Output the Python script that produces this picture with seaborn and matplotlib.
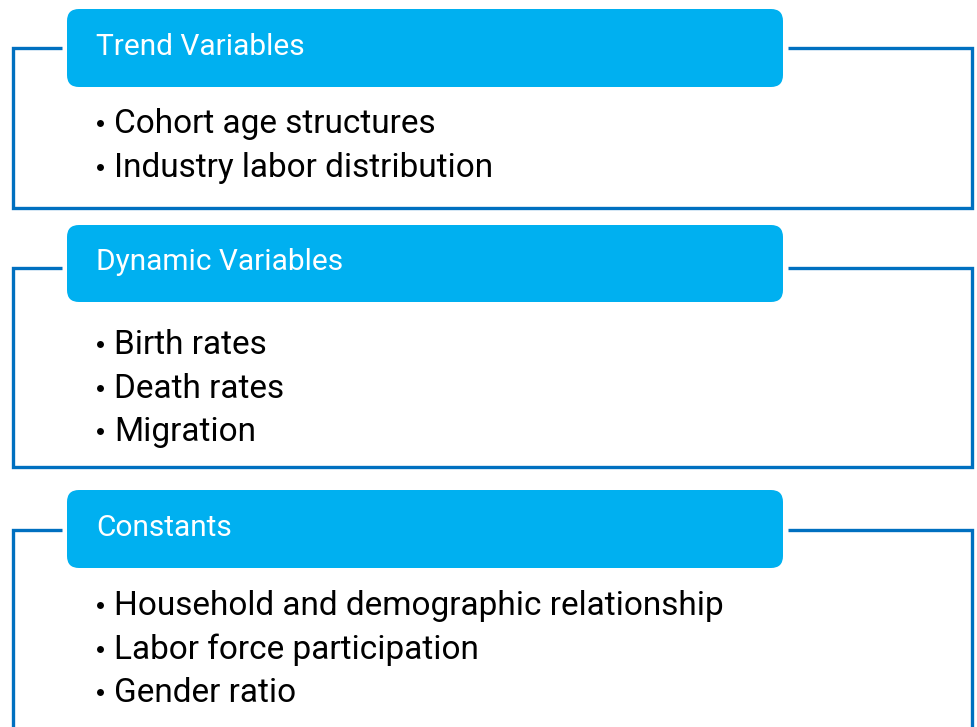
import matplotlib
matplotlib.use("Agg")
import matplotlib.pyplot as plt
from matplotlib.patches import FancyBboxPatch
import seaborn as sns

# group titles and their bullet items
titles = ['Trend Variables', 'Dynamic Variables', 'Constants']
trend_items = ['Cohort age structures', 'Industry labor distribution']
dynamic_items = ['Birth rates', 'Death rates', 'Migration']
constant_items = ['Household and demographic relationship',
                  'Labor force participation', 'Gender ratio']
items = [trend_items, dynamic_items, constant_items]

sns.set_style("white")
plt.rcParams['font.family'] = ['Roboto', 'DejaVu Sans']

header_color = '#00B0F0'
frame_color = '#0070C0'

fig = plt.figure(figsize=(9.78, 7.27), dpi=100)
ax = fig.add_axes([0, 0, 1, 1])
ax.set_xlim(0, 978)
ax.set_ylim(727, 0)
ax.axis('off')

# layout (pixels): header top/bottom, frame top, frame bottom, first bullet y
headers = [(9, 87), (225, 302), (490, 568)]
frame_tops = [48, 268, 530]
frame_bottoms = [208, 467, 740]
first_line = [124, 345, 606]
line_gap = 43.5

for i, title in enumerate(titles):
    top, bottom = headers[i]
    ft = frame_tops[i]
    fb = frame_bottoms[i]
    # frame outline
    ax.plot([62, 13, 13, 972, 972, 788], [ft, ft, fb, fb, ft, ft],
            color=frame_color, lw=2.4, solid_joinstyle='miter',
            solid_capstyle='butt', clip_on=False)
    # header box
    box = FancyBboxPatch((67, top), 716, bottom - top,
                         boxstyle='round,pad=0,rounding_size=12',
                         facecolor=header_color, edgecolor='none', zorder=3)
    ax.add_patch(box)
    ax.text(96, (top + bottom) / 2 - 1, title, color='white', fontsize=21.5,
            va='center', ha='left', zorder=4)
    for j, item in enumerate(items[i]):
        y = first_line[i] + j * line_gap
        ax.plot([100], [y - 1], marker='o', ms=5, color='black', mec='none')
        ax.text(114, y, item, fontsize=24, va='center', ha='left', color='black')

fig.savefig('out.png', dpi=100)
